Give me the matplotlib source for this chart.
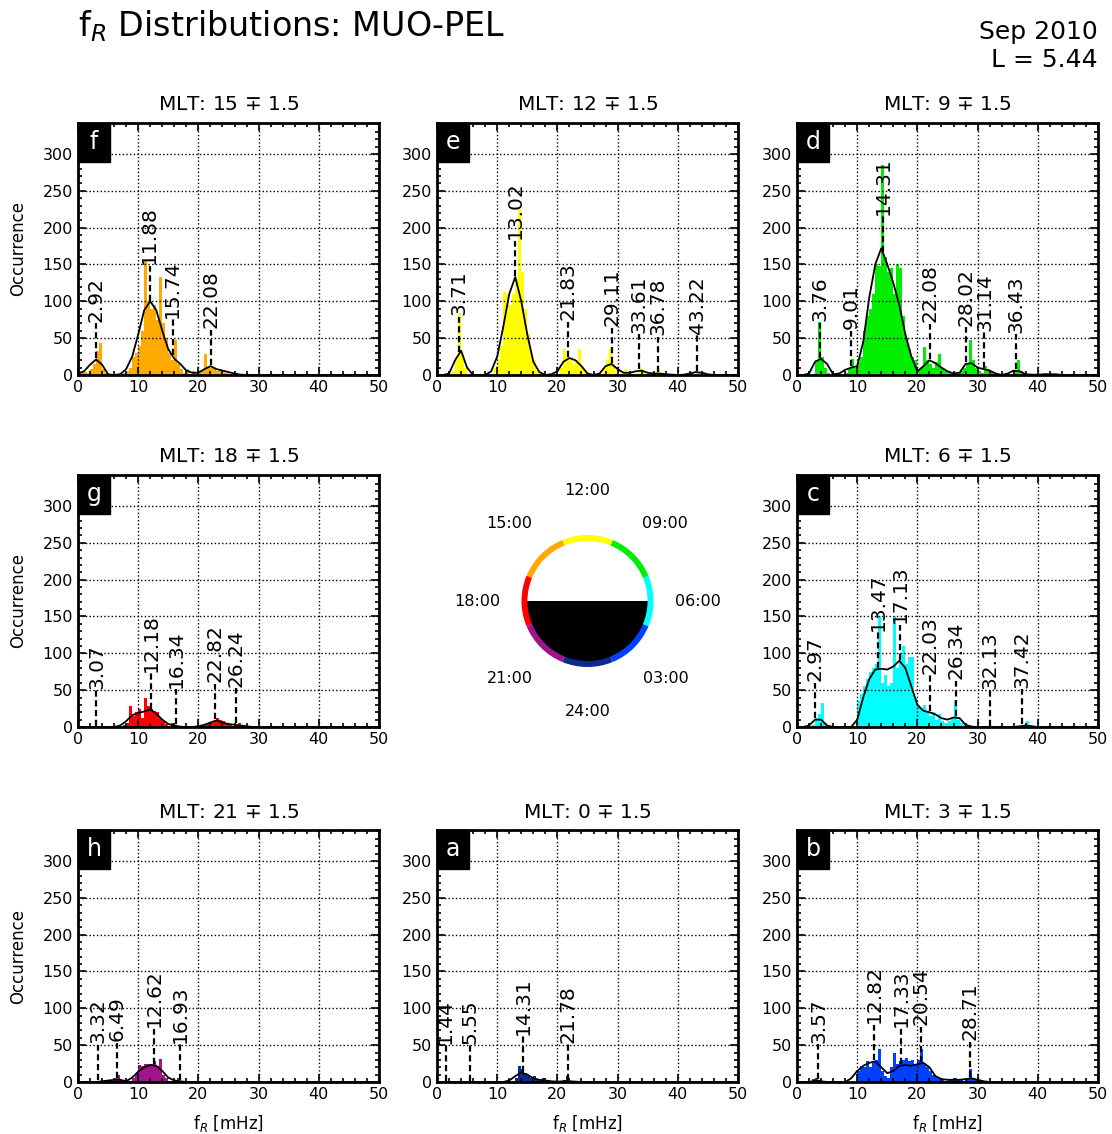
import numpy as np
import matplotlib
matplotlib.use("Agg")
import matplotlib.pyplot as plt
from matplotlib.patches import Wedge, Rectangle
from matplotlib.ticker import MultipleLocator

W, H = 1112, 1134

# histogram counts, 0.5 mHz bins starting at 0 mHz
bin_width = 0.5
counts = {
    'a': [0, 0, 0, 0, 0, 0, 0, 0, 0, 2, 0, 0, 0, 0, 0, 0, 0, 0, 0, 0,
          0, 0, 0, 0, 0, 0, 5, 22, 17, 12, 8, 5, 8, 3, 3, 5, 2, 0, 0, 0,
          0, 0, 3, 8, 2],
    'b': [0, 0, 0, 0, 0, 4, 5, 3, 0, 0, 0, 0, 0, 0, 0, 0, 0, 0, 0, 0,
          15, 22, 20, 28, 20, 28, 30, 45, 15, 8, 5, 20, 40, 25, 28, 30, 32, 28, 30, 25,
          30, 45, 25, 20, 15, 10, 8, 5, 4, 2, 3, 4, 5, 3, 3, 2, 5, 18, 5, 3,
          2],
    'c': [0, 0, 0, 0, 0, 3, 12, 18, 32, 5, 0, 0, 0, 0, 0, 0, 0, 0, 0, 0,
          35, 45, 55, 65, 75, 80, 85, 150, 60, 70, 55, 60, 150, 80, 100, 110, 85, 95, 95, 40,
          30, 25, 30, 20, 15, 20, 10, 18, 8, 5, 8, 12, 35, 10, 5, 3, 2, 0, 0, 0,
          0, 0, 2, 0, 2, 0, 0, 0, 0, 0, 0, 0, 0, 0, 0, 0, 8, 3],
    'd': [0, 0, 0, 0, 0, 2, 20, 72, 25, 10, 3, 0, 0, 0, 0, 0, 3, 10, 22, 10,
          18, 25, 60, 80, 90, 110, 150, 148, 285, 160, 140, 145, 110, 150, 145, 80, 50, 35, 25, 20,
          8, 10, 38, 20, 15, 10, 18, 28, 10, 5, 3, 2, 3, 2, 5, 10, 15, 48, 20, 10,
          5, 3, 12, 8, 5, 2, 1, 0, 0, 0, 0, 0, 5, 20, 5, 1, 0, 0, 0, 0,
          0, 0, 3, 1, 1, 1, 2],
    'e': [0, 0, 0, 0, 0, 5, 20, 84, 30, 10, 2, 0, 0, 0, 0, 0, 0, 0, 0, 10,
          20, 40, 112, 110, 95, 110, 130, 225, 140, 90, 55, 30, 20, 5, 2, 0, 0, 0, 0, 0,
          0, 10, 35, 25, 20, 15, 20, 35, 10, 5, 2, 0, 0, 0, 0, 10, 20, 36, 15, 5,
          3, 2, 8, 3, 3, 2, 3, 10, 5, 2, 1, 1, 2, 8, 2, 0, 0, 0, 0, 0,
          0, 0, 0, 0, 0, 0, 3, 3],
    'f': [5, 5, 4, 3, 8, 15, 32, 43, 8, 3, 0, 0, 0, 1, 2, 3, 5, 10, 25, 30,
          40, 60, 155, 100, 90, 95, 75, 133, 70, 50, 30, 20, 48, 15, 8, 3, 8, 2, 5, 2,
          3, 5, 28, 12, 10, 8, 5, 8, 5, 3, 1, 1, 0, 0, 0, 0, 0, 0, 0, 0,
          0, 0, 0, 0, 0, 0, 0, 0, 2],
    'g': [0, 0, 0, 0, 0, 1, 1, 0, 0, 0, 0, 0, 0, 0, 0, 3, 5, 28, 15, 20,
          25, 12, 40, 28, 25, 22, 20, 12, 8, 4, 1, 5, 2, 0, 0, 0, 0, 0, 0, 0,
          2, 2, 3, 5, 5, 8, 12, 10, 8, 5, 3, 2, 2, 5, 3],
    'h': [0, 0, 0, 0, 0, 0, 0, 0, 2, 1, 3, 2, 5, 10, 3, 1, 2, 1, 5, 12,
          23, 22, 24, 25, 24, 28, 22, 31, 10, 5, 2, 1, 0, 5, 2],
}

# smoothed density curves, read at 1 mHz steps (0..50)
kde_x = np.arange(0, 51)
kde = {
    'a': [0, 0, 0, 0, 0, 0, 0, 0, 0, 0, 0, 0, 2, 8, 13, 10, 5, 3, 2, 1,
          0.5, 1, 1, 0.5] + [0] * 27,
    'b': [0, 0, 0, 2, 1, 0, 0, 0, 0, 5, 15, 22, 26, 28, 20, 12, 15, 22, 23, 22,
          24, 26, 20, 8, 4, 3, 3, 3, 4, 5, 3, 1] + [0] * 19,
    'c': [0, 0, 2, 10, 10, 2, 0, 0, 0, 0, 10, 40, 65, 78, 79, 78, 82, 90, 80, 55,
          30, 22, 20, 17, 12, 10, 13, 12, 3, 0.5, 0, 0, 0, 0, 0, 0, 0, 1, 2, 1] + [0] * 11,
    'd': [0, 0, 2, 18, 22, 15, 1, 2, 7, 10, 12, 45, 105, 150, 172, 150, 125, 95, 55, 25,
          5, 12, 20, 16, 10, 5, 2, 3, 15, 16, 10, 8, 6, 2, 0, 2, 6, 5, 1, 0.5,
          0.5, 1, 1, 1] + [0] * 7,
    'e': [0, 0, 2, 20, 33, 10, 0, 0, 0, 5, 25, 65, 110, 133, 100, 55, 18, 4, 0, 1,
          5, 18, 23, 20, 12, 2, 0, 2, 12, 15, 8, 3, 3, 5, 6, 3, 2, 2, 1, 0.5,
          0, 0.5, 2, 4, 3, 1] + [0] * 5,
    'f': [2, 5, 14, 21, 14, 1, 0, 1, 8, 25, 55, 88, 100, 88, 60, 35, 22, 15, 6, 3,
          3, 8, 12, 8, 6, 4, 2, 0.5] + [0] * 23,
    'g': [0, 0, 0, 0, 0, 0, 0, 2, 8, 16, 19, 21, 24, 18, 10, 4, 2, 0.5, 0, 0,
          1, 3, 6, 9, 6, 4, 3, 2, 1] + [0] * 22,
    'h': [0, 0, 0, 0, 1, 2, 3, 3, 1, 6, 14, 20, 23, 22, 15, 6, 2, 1] + [0] * 33,
}

peaks = {
    'a': [1.44, 5.55, 14.31, 21.78],
    'b': [3.57, 12.82, 17.33, 20.54, 28.71],
    'c': [2.97, 13.47, 17.13, 22.03, 26.34, 32.13, 37.42],
    'd': [3.76, 9.01, 14.31, 22.08, 28.02, 31.14, 36.43],
    'e': [3.71, 13.02, 21.83, 29.11, 33.61, 36.78, 43.22],
    'f': [2.92, 11.88, 15.74, 22.08],
    'g': [3.07, 12.18, 16.34, 22.82, 26.24],
    'h': [3.32, 6.49, 12.62, 16.93],
}

mlt = {'a': 0, 'b': 3, 'c': 6, 'd': 9, 'e': 12, 'f': 15, 'g': 18, 'h': 21}
colors = {'a': '#0a2a8c', 'b': '#0040ff', 'c': '#00ffff', 'd': '#00ee00',
          'e': '#ffff00', 'f': '#ffaa00', 'g': '#ff0000', 'h': '#a0148c'}

# grid position (row, col) of each panel
layout = {'f': (0, 0), 'e': (0, 1), 'd': (0, 2),
          'g': (1, 0), 'c': (1, 2),
          'h': (2, 0), 'a': (2, 1), 'b': (2, 2)}

col_left = [78, 437, 797]
row_top = [123, 475, 830]
ax_w, ax_h = 301, 252


def rect(left, top, w, h):
    return [left / W, 1 - (top + h) / H, w / W, h / H]


fig = plt.figure(figsize=(W / 100, H / 100), dpi=100)
fig.text(78 / W, 1 - 26 / H, r'f$_R$ Distributions: MUO-PEL', fontsize=24,
         ha='left', va='center')
fig.text(1098 / W, 1 - 20 / H, 'Sep 2010\nL = 5.44', fontsize=18,
         ha='right', va='top', multialignment='right', linespacing=1.2)

for key, (r, c) in layout.items():
    ax = fig.add_axes(rect(col_left[c], row_top[r], ax_w, ax_h))
    cnt = np.array(counts[key], dtype=float)
    edges = np.arange(len(cnt)) * bin_width
    ax.bar(edges, cnt, width=bin_width, align='edge', color=colors[key],
           linewidth=0, zorder=2)
    ky = np.array(kde[key], dtype=float)
    ax.plot(kde_x, ky, color='k', lw=1.3, zorder=3)
    for p in peaks[key]:
        base = np.interp(p, kde_x, ky)
        ax.plot([p, p], [base + 2, base + 50], color='k', lw=1.6,
                dashes=(2.8, 1.6), zorder=4)
        ax.text(p, base + 52, '%.2f' % p, rotation=90, ha='center', va='bottom',
                fontsize=14.5, zorder=5)
    ax.set_xlim(0, 50)
    ax.set_ylim(0, 342)
    ax.xaxis.set_major_locator(MultipleLocator(10))
    ax.xaxis.set_minor_locator(MultipleLocator(2))
    ax.yaxis.set_major_locator(MultipleLocator(50))
    ax.yaxis.set_minor_locator(MultipleLocator(10))
    ax.tick_params(which='both', direction='in', top=True, right=True,
                   labelsize=11.5, width=1.2)
    ax.tick_params(which='major', length=6)
    ax.tick_params(which='minor', length=3)
    ax.grid(True, which='major', color='k', linestyle=':', lw=1)
    ax.set_axisbelow(False)
    for s in ax.spines.values():
        s.set_linewidth(2)
    ax.set_title(r'MLT: %d $\mp$ 1.5' % mlt[key], fontsize=14.5, pad=9)
    if c == 0:
        ax.set_ylabel('Occurrence', fontsize=12, labelpad=11)
    if r == 2:
        ax.set_xlabel(r'f$_R$ [mHz]', fontsize=12, labelpad=8)
    # panel letter box
    ax.add_patch(Rectangle((0, 1 - 39 / ax_h), 32 / ax_w, 39 / ax_h,
                           transform=ax.transAxes, facecolor='k',
                           edgecolor='k', zorder=6, clip_on=False))
    ax.text(16 / ax_w, 1 - 19 / ax_h, key, transform=ax.transAxes,
            color='white', fontsize=17, ha='center', va='center', zorder=7)

# MLT dial in the middle
axd = fig.add_axes(rect(col_left[1], row_top[1], ax_w, ax_h))
axd.set_xlim(-ax_w / 132, ax_w / 132)
axd.set_ylim(-ax_h / 132, ax_h / 132)
axd.axis('off')
axd.add_patch(Wedge((0, 0), 0.92, 180, 360, facecolor='k', edgecolor='none'))
for key, hr in mlt.items():
    ang = (hr - 6) * 15
    axd.add_patch(Wedge((0, 0), 1.0, ang - 22.5, ang + 22.5, width=0.09,
                        facecolor=colors[key], edgecolor='none'))
    lr = 1.67
    lab = '%02d:00' % (hr if hr != 0 else 24)
    axd.text(lr * np.cos(np.radians(ang)), lr * np.sin(np.radians(ang)), lab,
             ha='center', va='center', fontsize=11.5)

fig.savefig('out.png', dpi=100)
